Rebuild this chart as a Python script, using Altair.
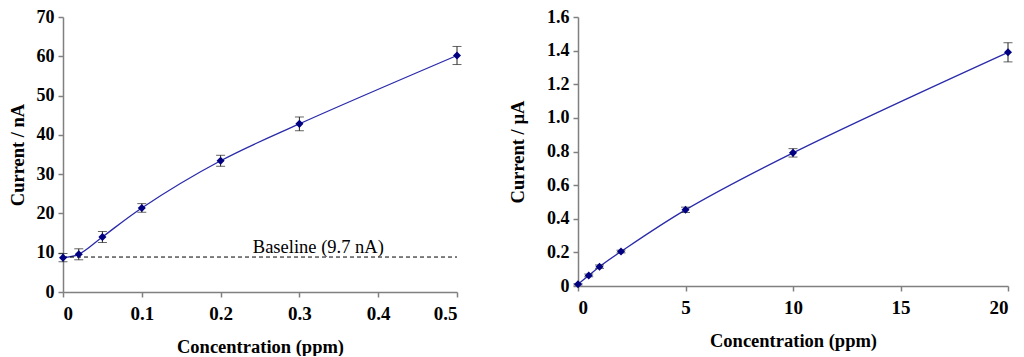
import altair as alt
import pandas as pd

FONT = "Liberation Serif"

# ---------------- data ----------------
left_conc = [0, 0.02, 0.05, 0.1, 0.2, 0.3, 0.5]
left_current = [8.75, 9.6, 14.0, 21.4, 33.4, 42.8, 60.2]
left_err = [1.05, 1.4, 1.4, 1.1, 1.4, 1.75, 2.3]
baseline_value = 8.9
baseline_x = [0, 0.5]
baseline_label = "Baseline (9.7 nA)"
baseline_label_x = 0.324

right_conc = [0, 0.5, 1, 2, 5, 10, 20]
right_current = [0.01, 0.063, 0.115, 0.205, 0.453, 0.792, 1.39]
right_err = [0.004, 0.008, 0.01, 0.008, 0.016, 0.025, 0.057]

left_xticks = [0, 0.1, 0.2, 0.3, 0.4, 0.5]
left_yticks = [0, 10, 20, 30, 40, 50, 60, 70]
right_xticks = [0, 5, 10, 15, 20]
right_yticks = [0, 0.2, 0.4, 0.6, 0.8, 1.0, 1.2, 1.4, 1.6]

left_df = pd.DataFrame({"x": left_conc, "y": left_current, "e": left_err})
left_df["lo"] = left_df["y"] - left_df["e"]
left_df["hi"] = left_df["y"] + left_df["e"]
right_df = pd.DataFrame({"x": right_conc, "y": right_current, "e": right_err})
right_df["lo"] = right_df["y"] - right_df["e"]
right_df["hi"] = right_df["y"] + right_df["e"]

base_df = pd.DataFrame({"x0": [baseline_x[0]], "x1": [baseline_x[1]],
                        "y": [baseline_value], "lx": [baseline_label_x],
                        "t": [baseline_label]})

DEC_EXPR = "datum.value == 0 ? '0' : format(datum.value, '.1f')"
INT_EXPR = "format(datum.value, 'd')"

AXIS_COMMON = dict(
    grid=False, domainColor="#808080", tickColor="#808080",
    domainWidth=1.5, tickWidth=1.5, tickSize=5, labelOverlap=False,
    labelFont=FONT, labelFontWeight="bold", labelColor="black",
    titleFont=FONT, titleFontWeight="bold", titleFontSize=18.5, titleColor="black",
)


def make_panel(df, xdom, ydom, xticks, yticks, xexpr, yexpr, ytitle, w, h,
               ytp, extra=()):
    xs = alt.Scale(domain=xdom, nice=False, zero=False)
    ys = alt.Scale(domain=ydom, nice=False, zero=False)
    xax = alt.Axis(values=xticks, labelExpr=xexpr, title="Concentration (ppm)",
                   labelPadding=7, titlePadding=14, labelFontSize=19,
                   **AXIS_COMMON)
    yax = alt.Axis(values=yticks, labelExpr=yexpr, title=ytitle,
                   labelPadding=4, titlePadding=ytp, labelFontSize=18,
                   **AXIS_COMMON)

    def X(f):
        return alt.X(f, scale=xs, axis=xax)

    def Y(f):
        return alt.Y(f, scale=ys, axis=yax)

    base = alt.Chart(df)
    bars = base.mark_rule(color="#222222", strokeWidth=1).encode(
        x=X("x:Q"), y=Y("lo:Q"), y2="hi:Q")
    cap_lo = base.mark_tick(orient="horizontal", size=9, thickness=1,
                            color="#222222").encode(x=X("x:Q"), y=Y("lo:Q"))
    cap_hi = base.mark_tick(orient="horizontal", size=9, thickness=1,
                            color="#222222").encode(x=X("x:Q"), y=Y("hi:Q"))
    line = base.mark_line(interpolate="catmull-rom", color="#2a2aaa",
                          strokeWidth=1.3).encode(x=X("x:Q"), y=Y("y:Q"))
    pts = base.mark_point(shape="diamond", filled=True, size=65,
                          color="#000080", opacity=1).encode(x=X("x:Q"), y=Y("y:Q"))
    layers = [line]
    for fn in extra:
        layers.append(fn(X, Y))
    layers += [bars, cap_lo, cap_hi, pts]
    return alt.layer(*layers).properties(width=w, height=h)


def baseline_rule(X, Y):
    return alt.Chart(base_df).mark_rule(strokeDash=[4, 3], color="black",
                                        strokeWidth=1).encode(
        x=X("x0:Q"), x2="x1:Q", y=Y("y:Q"))


def baseline_text(X, Y):
    return alt.Chart(base_df).mark_text(font=FONT, fontSize=18.5,
                                        baseline="alphabetic", dy=-4,
                                        align="center", color="black").encode(
        x=X("lx:Q"), y=Y("y:Q"), text="t:N")


left = make_panel(left_df, [0, 0.5], [0, 70], left_xticks, left_yticks,
                  DEC_EXPR, INT_EXPR, "Current / nA", 394, 275, 9,
                  extra=(baseline_rule, baseline_text))
right = make_panel(right_df, [0, 20], [0, 1.6], right_xticks, right_yticks,
                   INT_EXPR, DEC_EXPR, "Current / µA", 430, 269, 19)

chart = alt.hconcat(left, right, spacing=46).properties(
    padding=0, background="white"
).configure_view(stroke=None)

chart.save("out.html", embed_options={"renderer": "svg", "actions": False})
